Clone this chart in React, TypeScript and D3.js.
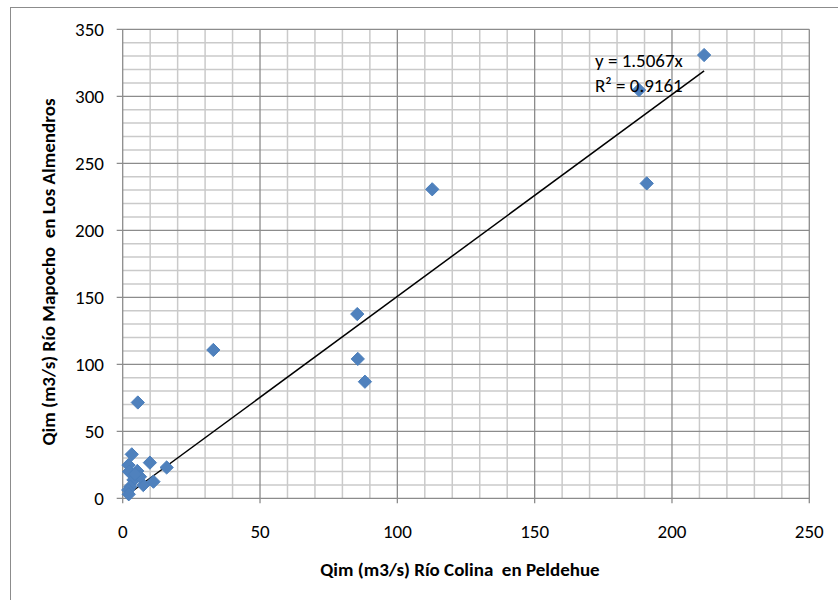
import React from "react";
import * as d3 from "d3";

const xValues = [211.7, 188.0, 190.8, 112.7, 85.4, 85.6, 88.2, 33.0, 5.5, 16.0, 3.3, 9.9, 2.1, 5.3, 2.3, 11.2, 7.5, 3.9, 2.8, 2.0, 2.2, 6.3, 4.5];
const yValues = [330.8, 304.7, 235.0, 230.6, 137.5, 104.0, 87.0, 110.7, 71.5, 23.0, 32.8, 26.6, 24.8, 20.4, 19.9, 12.4, 9.9, 13.7, 8.7, 6.2, 3.0, 16.1, 18.0];
const xTicks = [0, 50, 100, 150, 200, 250];
const yTicks = [0, 50, 100, 150, 200, 250, 300, 350];
const slope = 1.5067;
const r2 = 0.9161;
const xTitle = "Qim (m3/s) Río Colina\u00a0 en Peldehue";
const yTitle = "Qim (m3/s) Río Mapocho\u00a0 en Los Almendros";

const FONT = "Carlito, Calibri, 'Open Sans', sans-serif";

export default function App() {
  const left = 122.7, right = 809.3, top = 29.3, bottom = 498.3;
  const x = d3.scaleLinear().domain([0, 250]).range([left, right]);
  const y = d3.scaleLinear().domain([0, 350]).range([bottom, top]);
  const minor = d3.range(0, 251, 10).filter((v) => v % 50 !== 0);
  const minorY = d3.range(0, 351, 10).filter((v) => v % 50 !== 0);
  const pts = xValues.map((v, i) => [v, yValues[i]]);
  const xmin = d3.min(xValues) as number;
  const xmax = d3.max(xValues) as number;
  const line = d3.line<number>().x((v) => x(v)).y((v) => y(slope * v));
  const diamond = d3.symbol(d3.symbolDiamond2, 112)();

  return (
    <svg width={838} height={600} style={{ position: "absolute", left: 0, top: 0, background: "#fff" }} fontFamily={FONT}>
      <rect x={10.5} y={7.5} width={840} height={600} fill="#fff" stroke="#8c8c8c" strokeWidth={1} />
      {minor.map((v) => (
        <line key={"mx" + v} x1={x(v)} x2={x(v)} y1={top} y2={bottom} stroke="#cacaca" strokeWidth={1.5} />
      ))}
      {minorY.map((v) => (
        <line key={"my" + v} y1={y(v)} y2={y(v)} x1={left} x2={right} stroke="#cacaca" strokeWidth={1.5} />
      ))}
      {xTicks.map((v) => (
        <line key={"Mx" + v} x1={x(v)} x2={x(v)} y1={top} y2={bottom + 5} stroke="#8c8c8c" strokeWidth={1.3} />
      ))}
      {yTicks.map((v) => (
        <line key={"My" + v} y1={y(v)} y2={y(v)} x1={left - 6} x2={right} stroke="#8c8c8c" strokeWidth={1.3} />
      ))}
      {xTicks.map((v) => (
        <text key={"tx" + v} x={x(v)} y={538} textAnchor="middle" fontSize={19} fill="#000">{v}</text>
      ))}
      {yTicks.map((v) => (
        <text key={"ty" + v} x={104} y={y(v) + 6.5} textAnchor="end" fontSize={19} fill="#000">{v}</text>
      ))}
      <path d={line([xmin, xmax]) || ""} stroke="#000" strokeWidth={1.5} fill="none" />
      {pts.map(([a, b], i) => (
        <path key={"p" + i} d={diamond || ""} transform={`translate(${x(a)},${y(b)})`} fill="#4F81BD" stroke="#4A7EBB" strokeWidth={1} />
      ))}
      <text x={595} y={67} fontSize={19} fill="#000">{`y = ${slope}x`}</text>
      <text x={595} y={91.5} fontSize={19} fill="#000">{`R² = ${r2}`}</text>
      <text x={460} y={576} textAnchor="middle" fontSize={19} fontWeight="bold" fill="#000">{xTitle}</text>
      <text transform={`translate(54.5,272) rotate(-90)`} textAnchor="middle" fontSize={19} fontWeight="bold" fill="#000">{yTitle}</text>
    </svg>
  );
}
